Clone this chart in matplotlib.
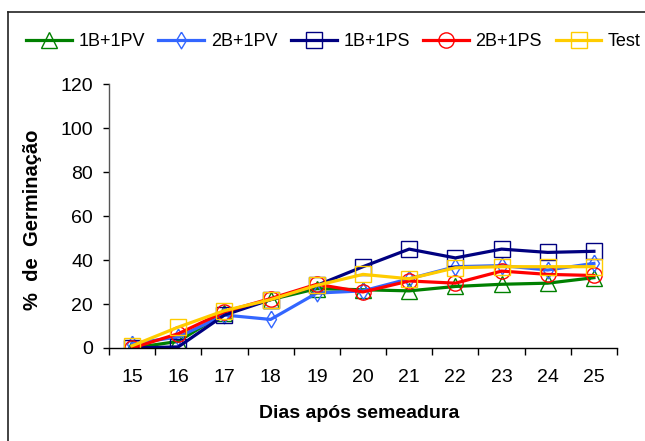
import matplotlib.pyplot as plt
from matplotlib.lines import Line2D

plt.rcParams['font.family'] = ['Liberation Sans', 'DejaVu Sans']

# Data
dias = ['15', '16', '17', '18', '19', '20', '21', '22', '23', '24', '25']
b1_pv = [0, 3, 16, 22, 27, 26.5, 26, 28, 29, 29.5, 32]
b2_pv = [2, 5, 15, 13, 25, 26, 31.5, 37, 37.5, 35.5, 38.5]
b1_ps = [0, 0.5, 15, 22, 28.5, 37, 45, 41, 45, 43.5, 44]
b2_ps = [0, 6.5, 16.5, 22.5, 29, 25.5, 30.5, 29.5, 35, 33.5, 33]
test = [1, 9.5, 17, 22, 28.5, 33.5, 31.5, 36.5, 37, 37, 37]

# tall, narrow diamond like the Excel marker
diamond = [(0, 1), (0.6, 0), (0, -1), (-0.6, 0), (0, 1)]

series = [
    ('1B+1PV', b1_pv, '#008000', '^', 12),
    ('2B+1PV', b2_pv, '#3366FF', diamond, 12),
    ('1B+1PS', b1_ps, '#000080', 's', 12),
    ('2B+1PS', b2_ps, '#FF0000', 'o', 11),
    ('Test', test, '#FFCC00', 's', 12),
]

fig = plt.figure(figsize=(6.45, 4.41), dpi=100)
ax = fig.add_axes([109 / 645, 1 - 348 / 441, 508 / 645, 263.7 / 441])

x = list(range(len(dias)))
for name, vals, col, mk, ms in series:
    ax.plot(x, vals, color=col, lw=2.3, marker=mk, ms=ms, mfc='none',
            mec=col, mew=1.0, label=name)

ax.set_xlim(-0.5, len(dias) - 0.5)
ax.set_ylim(0, 120)
ax.set_yticks(range(0, 121, 20))
ax.set_xticks(x)
ax.set_xticklabels(dias)
ax.set_xticks([i - 0.5 for i in range(len(dias) + 1)], minor=True)
ax.tick_params(axis='x', which='major', length=0, pad=15, labelsize=14)
ax.tick_params(axis='x', which='minor', length=5, width=1, direction='out')
ax.tick_params(axis='y', length=4.5, width=1, direction='out', pad=7, labelsize=14)

for s in ['top', 'right']:
    ax.spines[s].set_visible(False)
ax.spines['bottom'].set_linewidth(1)
ax.spines['left'].set_linewidth(1)
ax.spines['left'].set_color('#555555')

ax.set_xlabel('Dias após semeadura', fontsize=14, fontweight='bold')
ax.xaxis.set_label_coords(0.493, -0.218)
ax.set_ylabel('%  de  Germinação', fontsize=14.5, fontweight='bold')
ax.yaxis.set_label_coords(-0.131, 0.485)

fig.legend(loc='center left', bbox_to_anchor=(26 / 645, 1 - 42 / 441), ncol=5,
           frameon=False, fontsize=13, handlelength=2.54, handletextpad=0.36,
           columnspacing=0.75, borderaxespad=0, borderpad=0)

# chart frame (left and top edges visible)
fig.add_artist(Line2D([8 / 645, 8 / 645], [0, 1 - 11.5 / 441], color='#222222', lw=1.2))
fig.add_artist(Line2D([8 / 645, 1], [1 - 11.5 / 441, 1 - 11.5 / 441], color='#222222', lw=1.2))

fig.savefig('out.png', dpi=100)
